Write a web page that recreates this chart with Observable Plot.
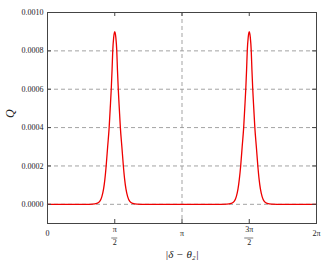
<!DOCTYPE html>
<html><head><meta charset="utf-8">
<script src="https://cdn.jsdelivr.net/npm/d3@7"></script>
<script src="https://cdn.jsdelivr.net/npm/@observablehq/plot@0.6"></script>
<style>body{margin:0;background:#fff}</style></head>
<body><div id="chart"></div>
<script>
// Curve samples (x in radians, Q)
const xVals = [0, 0.6, 0.9, 1.05, 1.15, 1.22, 1.27, 1.31, 1.34, 1.37, 1.405, 1.44, 1.465, 1.489, 1.508, 1.524, 1.546, 1.571,
  1.596, 1.618, 1.634, 1.653, 1.677, 1.702, 1.737, 1.772, 1.802, 1.832, 1.872, 1.922, 1.992, 2.092, 2.3, 3.1416, 3.9,
  4.19, 4.29, 4.36, 4.41, 4.45, 4.48, 4.512, 4.547, 4.582, 4.607, 4.631, 4.650, 4.666, 4.688, 4.712,
  4.737, 4.759, 4.775, 4.794, 4.818, 4.843, 4.878, 4.913, 4.943, 4.973, 5.013, 5.063, 5.133, 5.233, 5.5, 6.2832];
const qVals = [0, 0, 0, 0.000001, 0.000005, 0.000015, 0.00004, 0.00008, 0.00013, 0.0002, 0.0003, 0.0004, 0.0005, 0.0006, 0.0007, 0.0008, 0.00087, 0.0009,
  0.00087, 0.0008, 0.0007, 0.0006, 0.0005, 0.0004, 0.0003, 0.0002, 0.00013, 0.00008, 0.00004, 0.000015, 0.000005, 0.000001, 0, 0, 0,
  0.000001, 0.000005, 0.000015, 0.00004, 0.00008, 0.00013, 0.0002, 0.0003, 0.0004, 0.0005, 0.0006, 0.0007, 0.0008, 0.00087, 0.0009,
  0.00087, 0.0008, 0.0007, 0.0006, 0.0005, 0.0004, 0.0003, 0.0002, 0.00013, 0.00008, 0.00004, 0.000015, 0.000005, 0.000001, 0, 0];

const yTicks = [0, 0.0002, 0.0004, 0.0006, 0.0008, 0.0010];
const yTickLabels = ["0.0000", "0.0002", "0.0004", "0.0006", "0.0008", "0.0010"];
const xTickPos = [0, Math.PI / 2, Math.PI, 3 * Math.PI / 2, 2 * Math.PI];
const xTickNum = ["0", "π", "π", "3π", "2π"];
const xTickDen = ["", "2", "", "2", ""];
const xLabel = "|δ − θ₂|";
const yLabel = "Q";

const data = xVals.map((x, i) => ({x, q: qVals[i]}));
const xTicks = xTickPos.map((x, i) => ({x, num: xTickNum[i], den: xTickDen[i]}));
const yTickData = yTicks.map((y, i) => ({y, label: yTickLabels[i]}));
const innerTicksX = xTickPos.slice(1, 4);
const innerTicksY = yTicks.slice(0, 5);
const yMin = -0.0001;

const W = 327, H = 273, mL = 47, mR = 11, mT = 12, mB = 50;
const pw = W - mL - mR, ph = H - mT - mB;
const serif = "'Liberation Serif', 'DejaVu Serif', serif";
const axisColor = "#444";

const chart = Plot.plot({
  width: W, height: H,
  marginLeft: mL, marginRight: mR, marginTop: mT, marginBottom: mB,
  style: {fontFamily: serif, fontSize: "8px", background: "#fff", color: "#222"},
  x: {domain: [0, 2 * Math.PI], axis: null},
  y: {domain: [yMin, 0.001], axis: null},
  marks: [
    Plot.ruleY(innerTicksY, {stroke: "#999", strokeWidth: 0.9, strokeDasharray: "4,3"}),
    Plot.ruleX([Math.PI], {stroke: "#999", strokeWidth: 0.9, strokeDasharray: "4,3"}),
    Plot.line(data, {x: "x", y: "q", stroke: "#ee0000", strokeWidth: 1.3, curve: "monotone-x"}),
    Plot.frame({stroke: axisColor, strokeWidth: 1}),
    // inward ticks
    Plot.tickY(innerTicksY, {stroke: axisColor, insetRight: pw - 4}),
    Plot.tickY(innerTicksY, {stroke: axisColor, insetLeft: pw - 4}),
    Plot.tickX(innerTicksX, {stroke: axisColor, insetBottom: ph - 4}),
    Plot.tickX(innerTicksX, {stroke: axisColor, insetTop: ph - 4}),
    // y tick labels
    Plot.text(yTickData, {y: "y", text: "label", frameAnchor: "left", dx: -4, textAnchor: "end", fill: "#222"}),
    // x tick labels
    Plot.text(xTicks.filter(d => !d.den), {x: "x", text: "num", frameAnchor: "bottom", dy: 12, fill: "#222"}),
    Plot.text(xTicks.filter(d => d.den), {x: "x", text: "num", frameAnchor: "bottom", dy: 8, fill: "#222"}),
    Plot.text(xTicks.filter(d => d.den), {x: "x", text: "den", frameAnchor: "bottom", dy: 21, fill: "#222"}),
    // fraction bars
    Plot.ruleY(xTicks.filter(d => d.num === "π" && d.den), {x1: "x", x2: "x", y: () => yMin, dy: 14.5, insetLeft: -3, insetRight: -3, stroke: "#222", strokeWidth: 0.6}),
    Plot.ruleY(xTicks.filter(d => d.num === "3π"), {x1: "x", x2: "x", y: () => yMin, dy: 14.5, insetLeft: -4.5, insetRight: -4.5, stroke: "#222", strokeWidth: 0.6}),
    // axis labels
    Plot.text([xLabel], {text: d => d, frameAnchor: "bottom", dy: 34, fontSize: 11, fontStyle: "italic", fill: "#222"}),
    Plot.text([yLabel], {text: d => d, frameAnchor: "left", dx: -37, rotate: -90, fontSize: 12, fontStyle: "italic", fill: "#222"})
  ]
});
document.getElementById("chart").appendChild(chart);
</script>
</body></html>
